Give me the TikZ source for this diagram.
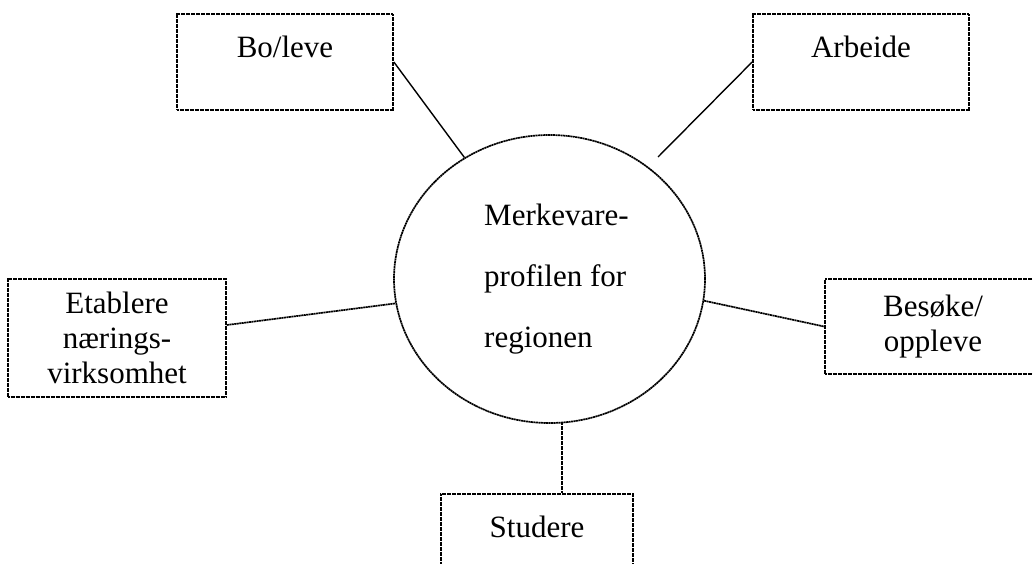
\documentclass[tikz,border=0pt]{standalone}
\usepackage{fontspec}
\setmainfont{Liberation Serif}
\usetikzlibrary{shapes.geometric,calc}
\tikzset{
  dotline/.style={line width=1.7pt, dash pattern=on 2pt off 0.5pt},
  boxnode/.style={draw, dotline, rectangle, inner sep=0pt, align=center,
    font=\fontsize{31}{35}\selectfont},
  hubnode/.style={draw, dotline, ellipse, inner sep=0pt, align=left,
    minimum width=311pt, minimum height=288pt,
    font=\fontsize{31}{61}\selectfont},
  solidlink/.style={line width=1.4pt},
  dotlink/.style={dotline}
}
\begin{document}
\begin{tikzpicture}[x=1pt,y=-1pt]
\useasboundingbox (0,0) rectangle (1033,563);
\node[hubnode] (c) at (549.5,279) {\hspace*{14pt}Merkevare-\\\hspace*{14pt}profilen for\\\hspace*{14pt}regionen};
\node[boxnode, minimum width=216pt, minimum height=96pt] (bo) at (285,62) {Bo/leve\\[-14pt]\strut};
\node[boxnode, minimum width=216pt, minimum height=96pt] (arb) at (861,62) {Arbeide\\[-14pt]\strut};
\node[boxnode, minimum width=218pt, minimum height=118pt] (est) at (117,338) {Etablere\\nærings-\\virksomhet};
\node[boxnode, minimum width=216pt, minimum height=95pt] (bes) at (933,326.5) {Besøke/\\oppleve};
\node[boxnode, minimum width=192pt, minimum height=96pt] (stu) at (537,542) {Studere\\[-14pt]\strut};
\coordinate (arbend) at (658,157);
\draw[solidlink] (bo.east) -- (c.125);
\draw[solidlink] (arb.west) -- (arbend);
\draw[dotlink] ([yshift=13pt]est.east) -- (c.189);
\draw[dotlink] (c.-8) -- (bes.west);
\draw[dotlink] (c.-85) -- (c.-85 |- stu.north);
\end{tikzpicture}
\end{document}
